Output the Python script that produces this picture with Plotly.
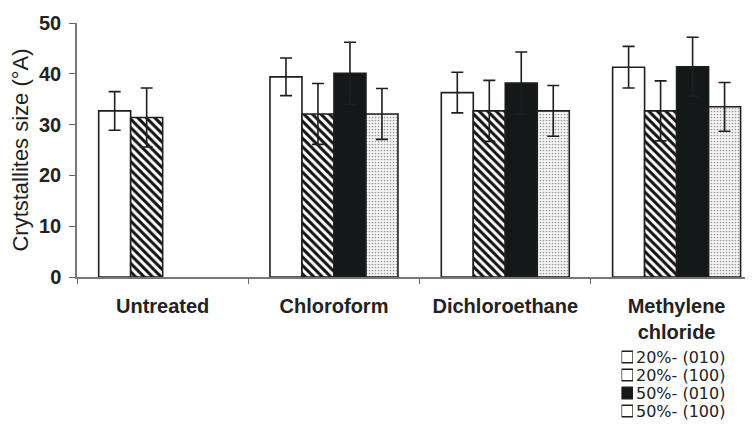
import plotly.graph_objects as go

categories = ["Untreated", "Chloroform", "Dichloroethane", "Methylene<br>chloride"]
series_names = ["20%- (010)", "20%- (100)", "50%- (010)", "50%- (100)"]

s1_vals = [32.7, 39.4, 36.3, 41.3]
s1_err = [3.8, 3.7, 4.0, 4.1]
s2_vals = [31.4, 32.1, 32.7, 32.7]
s2_err = [5.8, 6.0, 6.0, 5.9]
s3_vals = [None, 40.1, 38.2, 41.4]
s3_err = [None, 6.1, 6.1, 5.8]
s4_vals = [None, 32.1, 32.7, 33.5]
s4_err = [None, 5.0, 5.0, 4.8]

values = [s1_vals, s2_vals, s3_vals, s4_vals]
errors = [s1_err, s2_err, s3_err, s4_err]

FONT = "Liberation Sans, Arial, sans-serif"
EDGE = "#1e1e1e"
styles = [
    dict(color="white", shape="", fg="#111", bg="white", size=6, sol=0.5),
    dict(color="white", shape="\\", fg="#111", bg="white", size=6, sol=0.5),
    dict(color="#141818", shape="", fg="#111", bg="#141818", size=6, sol=0.5),
    dict(color="white", shape=".", fg="#9a9a9a", bg="#f6f6f6", size=3, sol=0.25),
]

fig = go.Figure()
for name, vals, errs, st in zip(series_names, values, errors, styles):
    fig.add_trace(go.Bar(
        x=categories, y=vals, name=name,
        marker=dict(color=st["color"], line=dict(color=EDGE, width=1.6),
                    pattern=dict(shape=st["shape"], fgcolor=st["fg"], bgcolor=st["bg"],
                                 size=st["size"], solidity=st["sol"], fillmode="replace")),
        error_y=dict(type="data", array=errs, visible=True, color=EDGE,
                     thickness=1.6, width=6),
        showlegend=False, xaxis="x", yaxis="y",
    ))

# legend keys drawn as a small bar panel
fig.add_trace(go.Bar(
    y=series_names, x=[1] * len(series_names), orientation="h", width=0.64,
    marker=dict(color=[s["color"] for s in styles], line=dict(color=EDGE, width=1.3),
                pattern=dict(shape=[s["shape"] for s in styles],
                             fgcolor=[s["fg"] for s in styles],
                             bgcolor=[s["bg"] for s in styles],
                             size=[4, 4, 4, 3], solidity=[s["sol"] for s in styles],
                             fillmode="replace")),
    showlegend=False, xaxis="x2", yaxis="y2", hoverinfo="skip",
))

OFF = 8  # page body margin around the plot div
W, H = 753 - OFF, 429 - OFF
ml, mr, mt, mb = 77 - OFF, 0, 23 - OFF, 2
ph = H - mt - mb
pw = W - ml - mr
axis_y = 277 - OFF
y0 = (H - mb - axis_y) / ph
leg_top, leg_bot = 348.0 - OFF, 420.0 - OFF
sw_l, sw_r = 621.5 - OFF, 633.0 - OFF

fig.update_layout(
    width=W, height=H,
    margin=dict(l=ml, r=mr, t=mt, b=mb, pad=0, autoexpand=False),
    paper_bgcolor="white", plot_bgcolor="white",
    barmode="group", bargap=0.253, bargroupgap=0,
    font=dict(family=FONT, color="#222"),
    xaxis=dict(type="category", categoryorder="array", categoryarray=categories,
               range=[-0.5, 3.446], tickson="boundaries", ticks="outside", ticklen=5,
               tickcolor="#666", showline=True, linecolor="#777", linewidth=1.5,
               showgrid=False, anchor="y", automargin=False,
               tickfont=dict(family=FONT, size=20, color="#222", weight="bold"),
               ticklabelstandoff=10),
    yaxis=dict(domain=[y0, 1], range=[0, 50], dtick=10, ticks="outside", ticklen=6,
               tickcolor="#666", showline=True, linecolor="#777", linewidth=1.5,
               showgrid=False, zeroline=False, anchor="x", automargin=False,
               tickfont=dict(family=FONT, size=20, color="#222", weight="bold"),
               ticklabelstandoff=4,
               title=dict(text="Crytstallites size (°A)", standoff=8,
                          font=dict(family=FONT, size=22, color="#1e1e1e"))),
    xaxis2=dict(domain=[(sw_l - ml) / pw, (sw_r - ml) / pw], range=[0, 1],
                visible=False, anchor="y2", automargin=False),
    yaxis2=dict(domain=[(H - mb - leg_bot) / ph, (H - mb - leg_top) / ph], type="category",
                categoryorder="array", categoryarray=series_names,
                tickmode="array", tickvals=series_names, ticktext=series_names,
                autorange="reversed", side="right", anchor="x2", automargin=False,
                showline=False, showgrid=False, zeroline=False, ticks="",
                ticklabelstandoff=2,
                tickfont=dict(family="DejaVu Sans, sans-serif", size=16, color="#222")),
)

fig.write_html("out.html")
